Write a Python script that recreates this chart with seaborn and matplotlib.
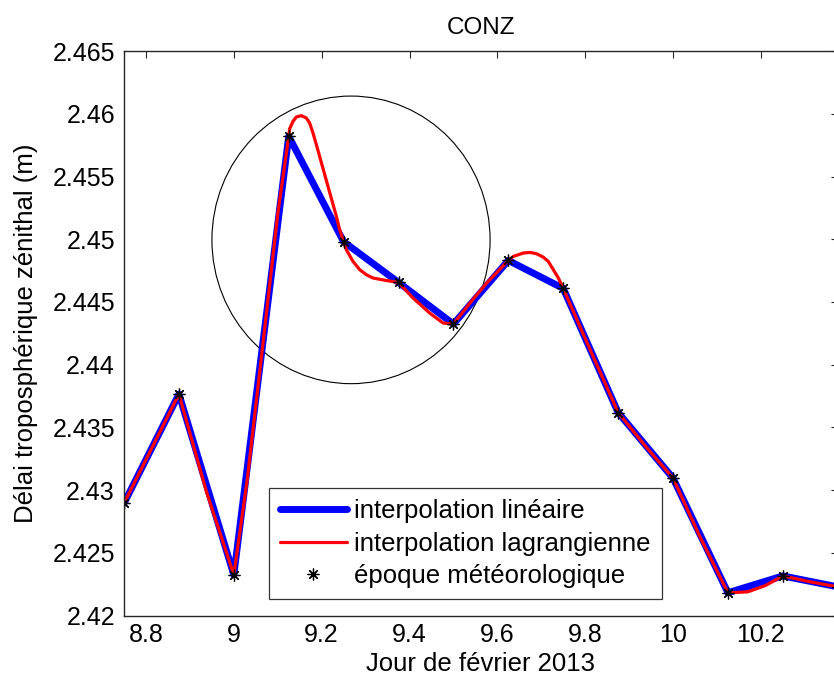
import numpy as np
import pandas as pd
import matplotlib
matplotlib.use("Agg")
import matplotlib.pyplot as plt
from matplotlib.patches import Ellipse
from matplotlib.ticker import FuncFormatter
import seaborn as sns

# epochs (day of February 2013) and zenith tropospheric delay (m)
epoch_x = [8.75, 8.875, 9.0, 9.125, 9.25, 9.375, 9.5, 9.625, 9.75, 9.875,
           10.0, 10.125, 10.25, 10.375]
epoch_y = [2.42896, 2.43766, 2.42325, 2.4582, 2.4498, 2.44656, 2.44324,
           2.44831, 2.44608, 2.43619, 2.43096, 2.42183, 2.42317, 2.4223]

# lagrangian curve
lag_x = [8.75, 8.8125, 8.875, 8.9375, 9.0, 9.03, 9.0625, 9.1, 9.125, 9.127,
         9.1346, 9.1423, 9.1537, 9.1651, 9.1726, 9.1802, 9.1879, 9.1954,
         9.2144, 9.2335, 9.241, 9.25, 9.2563, 9.2714, 9.2867, 9.302, 9.317,
         9.3475, 9.375, 9.4082, 9.4463, 9.4766, 9.5, 9.5375, 9.5756, 9.625,
         9.6363, 9.659, 9.6743, 9.6896, 9.7047, 9.716, 9.7275, 9.7389, 9.75,
         9.8125, 9.875, 9.9375, 10.0, 10.0625, 10.125, 10.17, 10.21, 10.25,
         10.3125, 10.375]
lag_y = [2.42896, 2.4333, 2.43766, 2.4299, 2.42325, 2.4307, 2.4405, 2.4520,
         2.4582, 2.45879, 2.45939, 2.45974, 2.45985, 2.45966, 2.45927,
         2.45847, 2.45754, 2.4566, 2.45421, 2.45182, 2.45076, 2.4498,
         2.44916, 2.44823, 2.44757, 2.44717, 2.44691, 2.44671, 2.44656,
         2.44531, 2.44411, 2.44332, 2.44324, 2.44491, 2.44651, 2.44831,
         2.44863, 2.4489, 2.44895, 2.44884, 2.44857, 2.44823, 2.44757,
         2.44691, 2.44608, 2.4411, 2.43619, 2.4335, 2.43096, 2.4262, 2.42183,
         2.4219, 2.4224, 2.42317, 2.4227, 2.4223]

x_ticks = [8.8, 9.0, 9.2, 9.4, 9.6, 9.8, 10.0, 10.2]
y_ticks = [2.42, 2.425, 2.43, 2.435, 2.44, 2.445, 2.45, 2.455, 2.46, 2.465]

sns.set_style("white")
plt.rcParams["font.family"] = ["Liberation Sans", "DejaVu Sans"]
plt.rcParams["text.color"] = "black"
plt.rcParams["axes.labelcolor"] = "black"

df_ep = pd.DataFrame({"jour": epoch_x, "ztd": epoch_y})
df_lag = pd.DataFrame({"jour": lag_x, "ztd": lag_y})

fig = plt.figure(figsize=(8.34, 6.82), dpi=100)
ax = fig.add_axes([0.1487, 0.0972, 0.8558, 0.828])

sns.lineplot(data=df_ep, x="jour", y="ztd", ax=ax, color="#0000ff",
             linewidth=5, label="interpolation linéaire")
sns.lineplot(data=df_lag, x="jour", y="ztd", ax=ax, color="#ff0000",
             linewidth=2.3, label="interpolation lagrangienne")
sns.lineplot(data=df_ep, x="jour", y="ztd", ax=ax, color="black",
             linestyle="none", marker=(8, 2, 0), markersize=8.5,
             markeredgecolor="black", markeredgewidth=0.9,
             label="époque météorologique")

ax.add_patch(Ellipse((9.2668, 2.44995), 0.6333, 0.02292, fill=False,
                     edgecolor="black", linewidth=0.8))

ax.set_xlim(8.75, 10.375)
ax.set_ylim(2.42, 2.465)
ax.set_xticks(x_ticks)
ax.set_yticks(y_ticks)
fmt = FuncFormatter(lambda v, p: "%g" % round(v, 4))
ax.xaxis.set_major_formatter(fmt)
ax.yaxis.set_major_formatter(fmt)
ax.tick_params(direction="in", length=5, width=0.8, labelsize=18,
               top=True, right=True, colors="#262626", labelcolor="black")
ax.tick_params(axis="x", pad=5)
ax.tick_params(axis="y", pad=6.5)
for s in ax.spines.values():
    s.set_color("#262626")
    s.set_linewidth(1.0)

ax.set_title("CONZ", fontsize=17.5, pad=12, color="black")
ax.set_xlabel("Jour de février 2013", fontsize=18.5, labelpad=4)
ax.set_ylabel("Délai troposphérique zénithal (m)", fontsize=18.5, labelpad=10)

leg = ax.legend(loc="lower left", bbox_to_anchor=(0.2032, 0.0296),
                borderaxespad=0, fontsize=18.5, frameon=True, fancybox=False,
                handlelength=2.6, labelspacing=0.33, borderpad=0.42,
                handletextpad=0.3)
leg.get_frame().set_edgecolor("black")
leg.get_frame().set_linewidth(0.9)

fig.savefig("out.png", dpi=100)
